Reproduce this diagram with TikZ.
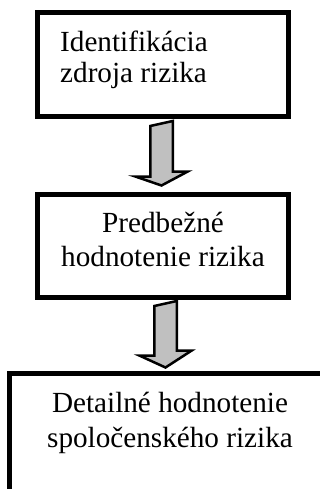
\documentclass[tikz,border=0pt]{standalone}
\usepackage{fontspec}
\setmainfont{Liberation Serif}
\usetikzlibrary{calc}
\definecolor{arrowgray}{RGB}{192,192,192}
\tikzset{
  boxstyle/.style={draw=black, line width=5pt, fill=white, inner sep=0pt, rectangle},
  txt/.style={inner sep=0pt, font=\fontsize{29.2}{33}\selectfont},
  bigarrow/.style={draw=black, fill=arrowgray, line width=2.5pt, line join=miter},
}
\begin{document}
\begin{tikzpicture}[x=1pt,y=-1pt]
\useasboundingbox (0,0) rectangle (320,489);
\begin{scope}
\clip (0,0) rectangle (320,489);
% boxes
\node[boxstyle, minimum width=251pt, minimum height=104pt] (b1) at (163,64.5) {};
\node[boxstyle, minimum width=251pt, minimum height=103pt] (b2) at (163,246) {};
\node[boxstyle, minimum width=330pt, minimum height=140pt] (b3) at (174.5,443.5) {};
% texts
\node[txt, anchor=base west] (t1a) at (60,52) {Identifikácia};
\node[txt, anchor=base west] (t1b) at (60,83) {zdroja rizika};
\node[txt, anchor=base] (t2a) at (163,232) {Predbežné};
\node[txt, anchor=base] (t2b) at (163,266) {hodnotenie rizika};
\node[txt, anchor=base] (t3a) at (170,412) {Detailné hodnotenie};
\node[txt, anchor=base] (t3b) at (170,447) {spoločenského rizika};
% arrows
\coordinate (a1top) at ($(b1.south)+(-1.5,7)$);
\coordinate (a1tip) at ($(b2.north)+(-1.5,-6.5)$);
\draw[bigarrow] (a1top) ++(-11.25,0) -- ++(0,50.5) -- ++(-15,0) -- (a1tip) -- ++(26.25,-14) -- ++(-15,0) -- ++(0,-50.5) -- cycle;
\coordinate (a2top) at ($(b2.south)+(2.5,6)$);
\coordinate (a2tip) at ($(b3.north)+(-9,-3.5)$);
\draw[bigarrow] (a2top) ++(-11.25,0) -- ++(0,49.5) -- ++(-15,0) -- (a2tip) -- ++(26.25,-17) -- ++(-15,0) -- ++(0,-49.5) -- cycle;
\end{scope}
\end{tikzpicture}
\end{document}
